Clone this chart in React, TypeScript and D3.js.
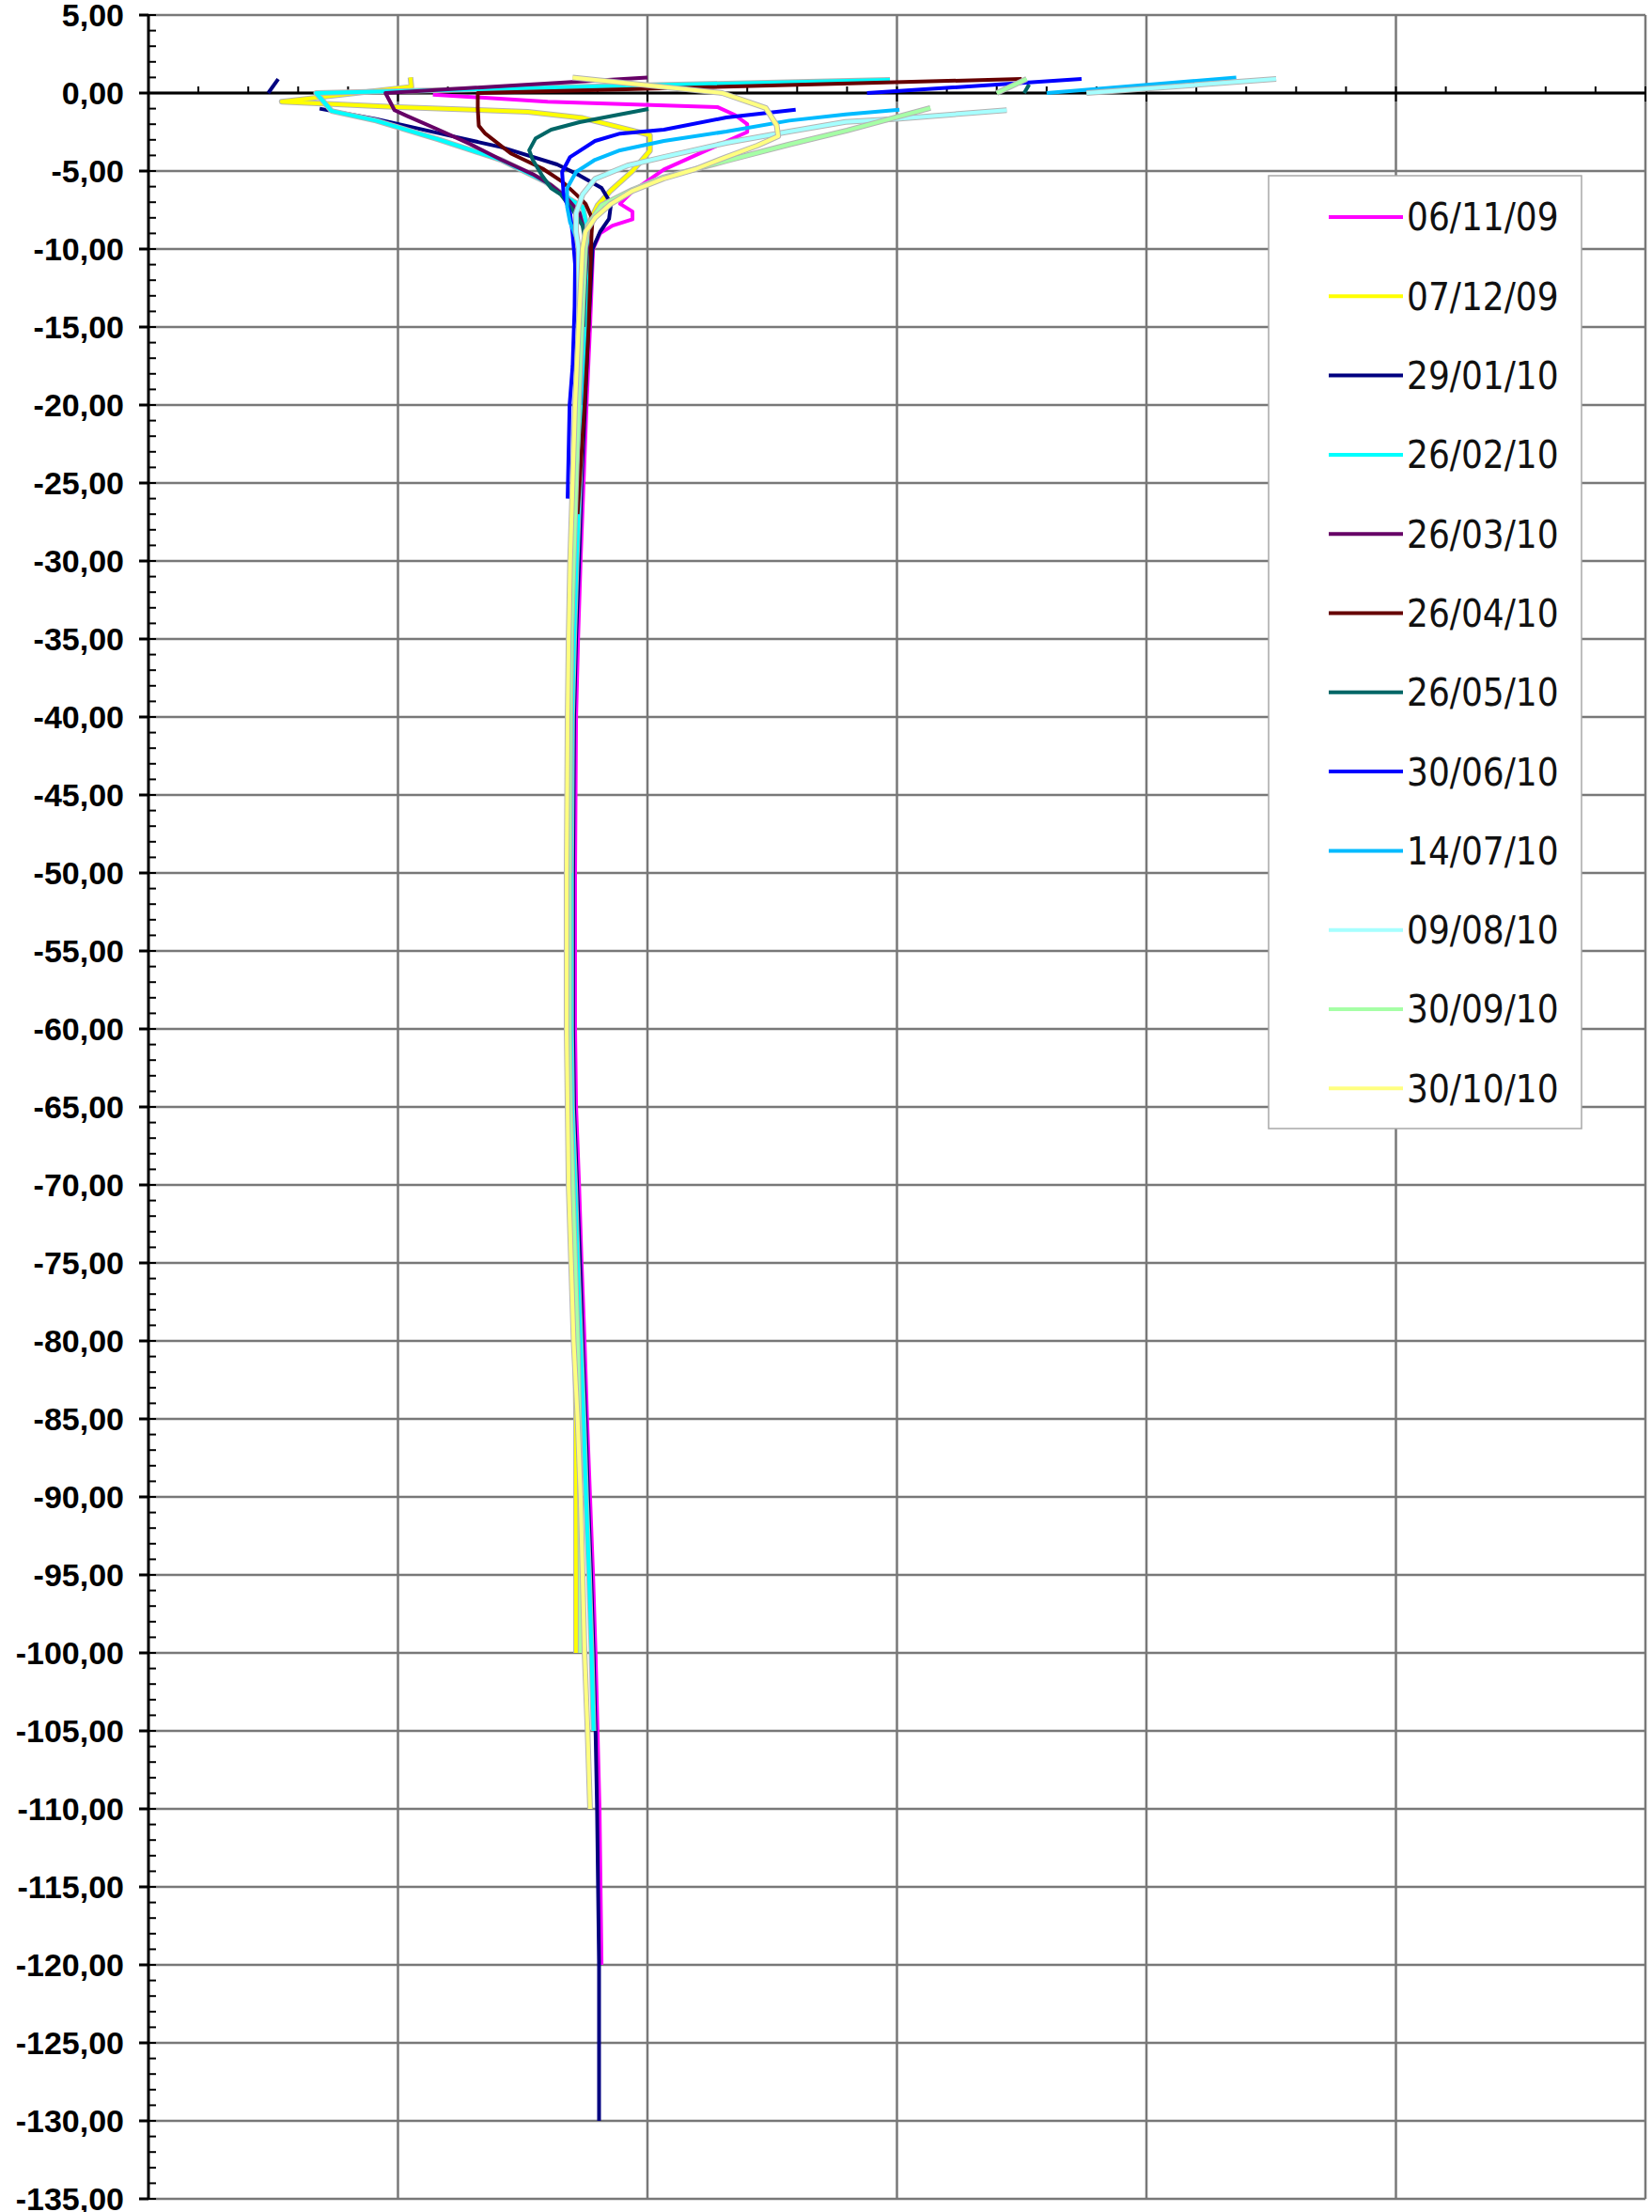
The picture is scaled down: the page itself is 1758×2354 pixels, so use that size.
import React, { useEffect, useRef } from 'react';
import * as d3 from 'd3';

type Pt = [number, number] | null;

// temperature / depth profiles, [x, depth]; null = gap in the sheet
const s061109: Pt[] = [
  [5.7, -0.1], [8.0, -0.55], [11.4, -0.9], [11.75, -1.4], [12.0, -2.0], [12.0, -2.5],
  [10.33, -4.9], [9.7, -6.3], [9.45, -7.1], [9.7, -7.6], [9.7, -8.1], [9.3, -8.5], [9.05, -9.0],
  [8.91, -10], [8.85, -15], [8.78, -20], [8.72, -25], [8.66, -30], [8.61, -35], [8.57, -40],
  [8.55, -50], [8.55, -60], [8.57, -65], [8.63, -70], [8.68, -75], [8.74, -80], [8.79, -85],
  [8.85, -90], [8.91, -95], [8.96, -100], [9.0, -105], [9.04, -110], [9.06, -115], [9.08, -120]
];
const s071209: Pt[] = [
  [5.25, 1.0], [5.27, 0.4], [2.67, -0.55], [5.0, -0.9], [7.6, -1.2], [8.7, -1.6], [9.7, -2.4],
  [10.05, -2.7], [10.05, -3.7], [9.7, -5.0], [9.25, -6.3], [9.0, -7.2], [8.85, -8.2], [8.8, -9.0],
  [8.76, -10], [8.71, -15], [8.64, -20], [8.6, -25], [8.55, -30], [8.48, -35], [8.44, -40],
  [8.42, -50], [8.41, -60], [8.45, -65], [8.5, -70], [8.52, -75], [8.55, -80], [8.57, -85],
  [8.57, -90], [8.57, -95], [8.57, -100]
];
const s290110: Pt[] = [
  [2.6, 0.9], [2.4, 0.0], null, [3.43, -1.0], [4.56, -1.67], [5.81, -2.57], [7.07, -3.47],
  [8.19, -4.58], [8.64, -5.28], [9.08, -6.08], [9.27, -7.09], [9.23, -8.07], [9.05, -8.9],
  [8.9, -10], [8.82, -15], [8.75, -20], [8.68, -25], [8.63, -30], [8.57, -35], [8.53, -40],
  [8.51, -50], [8.51, -60], [8.53, -65], [8.59, -70], [8.65, -75], [8.7, -80], [8.76, -85],
  [8.81, -90], [8.87, -95], [8.92, -100], [8.96, -105], [8.99, -110], [9.01, -115], [9.03, -120],
  [9.03, -125], [9.03, -130]
];
const s260210: Pt[] = [
  [14.86, 0.85], [3.36, 0.0], [3.67, -1.15], [4.56, -1.77], [5.81, -2.97], [7.06, -4.28],
  [7.95, -5.68], [8.39, -6.7], [8.7, -7.3], [8.78, -8.5], [8.8, -10], [8.76, -15], [8.7, -20],
  [8.64, -25], [8.58, -30], [8.53, -35], [8.49, -40], [8.47, -50], [8.47, -60], [8.49, -65],
  [8.55, -70], [8.6, -75], [8.66, -80], [8.72, -85], [8.77, -90], [8.83, -95], [8.88, -100],
  [8.92, -105]
];
const s260310: Pt[] = [
  [10.0, 1.0], [4.75, 0.0], [4.93, -1.1], [5.18, -1.47], [5.81, -2.35], [6.44, -3.26],
  [7.07, -4.28], [7.7, -5.2], [8.07, -5.9], [8.38, -6.7], [8.64, -7.7], [8.75, -9.0],
  [8.8, -10], [8.75, -12]
];
const s260410: Pt[] = [
  [17.5, 0.9], [6.6, 0.0], [6.6, -1.0], [6.62, -2.1], [6.75, -2.6], [7.26, -3.87], [7.9, -4.85],
  [8.3, -5.7], [8.57, -6.5], [8.76, -7.1], [8.9, -8.1], [8.88, -9.0], [8.87, -10], [8.82, -15],
  [8.74, -20], [8.64, -25], [8.6, -27]
];
const s260510: Pt[] = [
  [17.65, 0.55], [17.55, 0.0], null, [10.02, -1.02], [9.45, -1.37], [8.64, -1.87], [8.07, -2.35],
  [7.76, -2.9], [7.63, -3.67], [7.7, -4.28], [7.89, -5.3], [8.07, -6.1], [8.26, -6.5],
  [8.5, -7.5], [8.7, -8.5], [8.78, -10], [8.72, -15]
];
const s300610: Pt[] = [
  [18.7, 0.9], [14.4, 0.0], null, [12.97, -1.07], [11.58, -1.57], [10.33, -2.35], [9.45, -2.6],
  [8.95, -3.07], [8.45, -4.1], [8.29, -5.06], [8.32, -6.5], [8.45, -7.7], [8.5, -9.0],
  [8.55, -11], [8.54, -13.7], [8.5, -17.5], [8.44, -20], [8.4, -26]
];
const s140710: Pt[] = [
  [21.8, 1.0], [18.0, 0.0], null, [15.05, -1.07], [13.97, -1.37], [12.84, -1.77], [11.58, -2.47],
  [10.33, -3.07], [9.45, -3.67], [8.95, -4.28], [8.57, -5.06], [8.39, -6.1], [8.39, -7.3],
  [8.45, -8.3], [8.6, -9.5], [8.72, -12], [8.7, -15], [8.66, -20]
];
const s090810: Pt[] = [
  [22.6, 0.9], [18.8, 0.0], null, [17.2, -1.1], [15.0, -1.65], [13.97, -1.85], [12.84, -2.47],
  [11.58, -3.19], [10.33, -4.1], [9.6, -4.65], [8.95, -5.5], [8.7, -6.5], [8.57, -7.7],
  [8.57, -8.9], [8.62, -10], [8.64, -15], [8.6, -20], [8.55, -25], [8.5, -30], [8.47, -35],
  [8.45, -40], [8.44, -50]
];
const s300910: Pt[] = [
  [17.6, 0.9], [17.0, 0.0], null, [15.67, -0.96], [14.0, -2.4], [12.84, -3.3], [11.58, -4.35],
  [10.33, -5.4], [9.7, -6.2], [9.08, -7.2], [8.8, -8.5], [8.75, -10], [8.68, -15], [8.62, -20],
  [8.57, -25], [8.52, -30], [8.47, -35], [8.45, -40], [8.43, -50], [8.43, -60], [8.45, -65],
  [8.5, -70], [8.55, -75], [8.6, -80], [8.63, -85], [8.65, -90], [8.66, -95], [8.66, -100]
];
const s301010: Pt[] = [
  [8.5, 1.0], [11.5, 0.0], [12.37, -0.96], [12.59, -2.07], [12.62, -2.77], [12.2, -3.37],
  [11.58, -4.1], [10.96, -4.88], [10.33, -5.48], [9.7, -6.27], [9.27, -7.1], [8.95, -8.0],
  [8.76, -8.9], [8.7, -10], [8.62, -15], [8.55, -20], [8.5, -25], [8.45, -30], [8.42, -35],
  [8.4, -40], [8.38, -50], [8.38, -60], [8.4, -65], [8.42, -70], [8.47, -75], [8.52, -80],
  [8.6, -85], [8.66, -90], [8.7, -95], [8.74, -100], [8.8, -105], [8.85, -110]
];

const seriesNames = [
  '06/11/09', '07/12/09', '29/01/10', '26/02/10', '26/03/10', '26/04/10',
  '26/05/10', '30/06/10', '14/07/10', '09/08/10', '30/09/10', '30/10/10'
];
const seriesData = [
  s061109, s071209, s290110, s260210, s260310, s260410,
  s260510, s300610, s140710, s090810, s300910, s301010
];
const seriesColors = [
  '#FF00FF', '#FFFF00', '#000080', '#00FFFF', '#660066', '#660000',
  '#006666', '#0000FF', '#00BBFF', '#A6FFFF', '#A6FFA6', '#FFFF80'
];
// pale lines get the grey fringe seen in the original
const paleSeries = ['07/12/09', '26/02/10', '09/08/10', '30/09/10', '30/10/10'];

const xDomain: [number, number] = [0, 30];
const yDomain: [number, number] = [-135, 5];

const W = 1758;
const H = 2354;

export default function App() {
  const svgRef = useRef<SVGSVGElement>(null);

  useEffect(() => {
    if (!svgRef.current) return;
    const svg = d3.select(svgRef.current);
    svg.selectAll('*').remove();

    const left = 158, right = 1751, top = 16, bottom = 2340;
    const x = d3.scaleLinear().domain(xDomain).range([left, right]);
    const y = d3.scaleLinear().domain(yDomain).range([bottom, top]);

    svg.append('rect').attr('width', W).attr('height', H).attr('fill', '#fff');

    const grid = svg.append('g');
    const yMajor = d3.range(yDomain[0], yDomain[1] + 0.1, 5);
    const xMajor = d3.range(xDomain[0] + 5, xDomain[1] + 0.1, 5);
    grid.selectAll('.hg').data(yMajor).enter().append('line')
      .attr('x1', left).attr('x2', right)
      .attr('y1', d => y(d)).attr('y2', d => y(d))
      .attr('stroke', '#787878').attr('stroke-width', 2.5);
    grid.selectAll('.vg').data(xMajor).enter().append('line')
      .attr('x1', d => x(d)).attr('x2', d => x(d))
      .attr('y1', top).attr('y2', bottom)
      .attr('stroke', '#787878').attr('stroke-width', 2.5);

    // y axis
    const ax = svg.append('g');
    ax.append('line').attr('x1', left).attr('x2', left).attr('y1', top).attr('y2', bottom)
      .attr('stroke', '#000').attr('stroke-width', 3);
    const yMinor = d3.range(yDomain[0], yDomain[1] + 0.1, 1);
    ax.selectAll('.ymin').data(yMinor).enter().append('line')
      .attr('x1', left).attr('x2', left + 8)
      .attr('y1', d => y(d)).attr('y2', d => y(d))
      .attr('stroke', '#000').attr('stroke-width', 2);
    ax.selectAll('.ymaj').data(yMajor).enter().append('line')
      .attr('x1', left - 10).attr('x2', left)
      .attr('y1', d => y(d)).attr('y2', d => y(d))
      .attr('stroke', '#000').attr('stroke-width', 3);

    const fmt = d3.formatLocale({
      decimal: ',', thousands: '.', grouping: [3], currency: ['', ''], minus: '-'
    }).format('.2f');
    ax.selectAll('.ylab').data(yMajor).enter().append('text')
      .attr('x', left - 26).attr('y', d => y(d)).attr('dy', '0.36em')
      .attr('text-anchor', 'end')
      .style('font-family', '"Liberation Sans", Arial, sans-serif')
      .style('font-weight', 'bold').style('font-size', '34px').style('fill', '#000')
      .text(d => fmt(d));

    // x axis at depth 0
    const y0 = y(0);
    ax.append('line').attr('x1', left).attr('x2', right).attr('y1', y0).attr('y2', y0)
      .attr('stroke', '#000').attr('stroke-width', 3);
    const xMinor = d3.range(xDomain[0] + 1, xDomain[1] + 0.1, 1);
    ax.selectAll('.xmin').data(xMinor).enter().append('line')
      .attr('x1', d => x(d)).attr('x2', d => x(d))
      .attr('y1', y0 - 7).attr('y2', d => (d % 5 === 0 ? y0 + 9 : y0))
      .attr('stroke', '#000').attr('stroke-width', 2);

    // series
    const line = d3.line<Pt>()
      .defined(d => d !== null)
      .x(d => x(d![0]))
      .y(d => y(d![1]));

    const plot = svg.append('g');
    seriesData.forEach((data, i) => {
      if (paleSeries.includes(seriesNames[i])) {
        plot.append('path').attr('d', line(data) || '')
          .attr('fill', 'none').attr('stroke', '#b4b4b4').attr('stroke-width', 6)
          .attr('stroke-linejoin', 'round');
      }
      plot.append('path').attr('d', line(data) || '')
        .attr('fill', 'none').attr('stroke', seriesColors[i]).attr('stroke-width', 4)
        .attr('stroke-linejoin', 'round');
    });

    // legend
    const lg = svg.append('g');
    lg.append('rect').attr('x', 1350).attr('y', 187).attr('width', 333).attr('height', 1014)
      .attr('fill', '#fff').attr('stroke', '#a8a8a8').attr('stroke-width', 1.5);
    seriesNames.forEach((name, i) => {
      const cy = 231 + i * 84.3;
      lg.append('line').attr('x1', 1414).attr('x2', 1493).attr('y1', cy).attr('y2', cy)
        .attr('stroke', seriesColors[i]).attr('stroke-width', 4);
      lg.append('text').attr('x', 1497).attr('y', cy).attr('dy', '0.36em')
        .style('font-family', '"Liberation Sans Narrow", "Arial Narrow", "DejaVu Sans Condensed", sans-serif')
        .style('font-size', '40px').style('fill', '#111')
        .text(name);
    });
  }, []);

  return (
    <svg
      ref={svgRef}
      width={W}
      height={H}
      style={{ position: 'absolute', left: 0, top: 0, background: '#fff' }}
    />
  );
}
